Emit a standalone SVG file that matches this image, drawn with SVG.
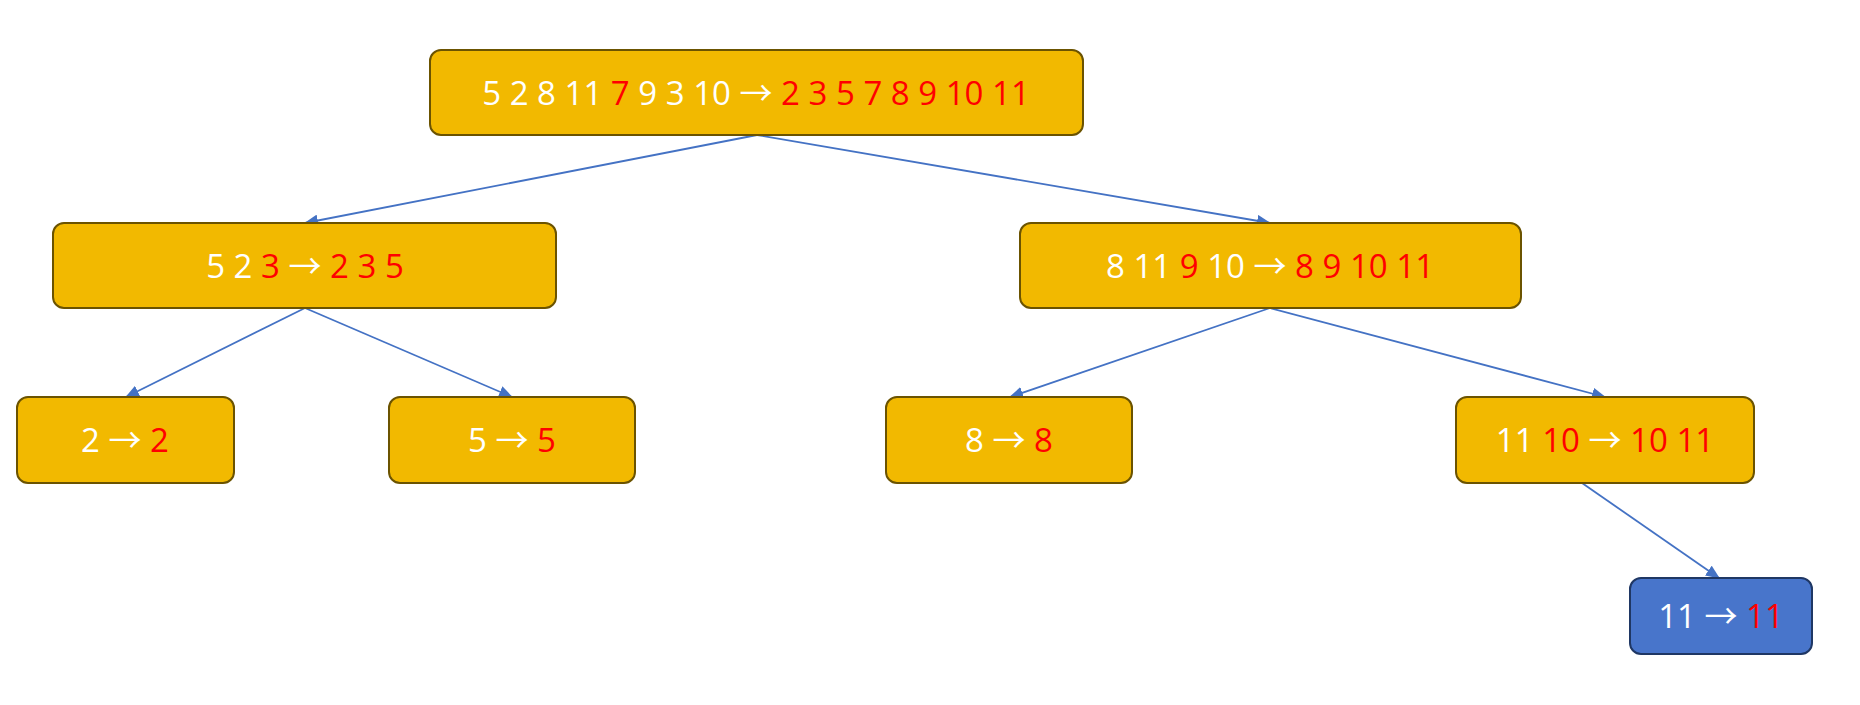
<svg xmlns="http://www.w3.org/2000/svg" width="1860" height="705" viewBox="0 0 1860 705">
<defs>
<style>
.n{fill:#F2B900;stroke:#6B5300;stroke-width:2}
.b{fill:#4875CB;stroke:#1F3764;stroke-width:2}
text{font-family:"Open Sans","Liberation Sans",sans-serif;font-size:33px;text-anchor:middle}
.w{fill:#FFFFFF}
.r{fill:#FF0000}
.a{fill:#FFFFFF;font-family:"Noto Sans CJK JP","DejaVu Sans",sans-serif}
.e{stroke:#4472C4;stroke-width:1.8;fill:none;marker-end:url(#ah)}
</style>
<marker id="ah" markerUnits="userSpaceOnUse" markerWidth="14" markerHeight="12" viewBox="0 0 14 12" refX="13" refY="6" orient="auto">
<path d="M0,0 L14,6 L0,12 Z" fill="#4472C4"/>
</marker>
</defs>
<rect width="1860" height="705" fill="#FFFFFF"/>
<g id="connectors">
<line class="e" x1="757" y1="135" x2="305" y2="223"/>
<line class="e" x1="757" y1="135" x2="1270" y2="223"/>
<line class="e" x1="305" y1="308" x2="126" y2="397"/>
<line class="e" x1="305" y1="308" x2="512" y2="397"/>
<line class="e" x1="1270" y1="308" x2="1010" y2="397"/>
<line class="e" x1="1270" y1="308" x2="1605" y2="397"/>
<line class="e" x1="1582" y1="483" x2="1719" y2="578"/>
</g>
<g id="root">
<rect class="n" x="430" y="50" width="653" height="85" rx="11"/>
<text x="756" y="105"><tspan class="w">5 2 8 11 </tspan><tspan class="r">7</tspan><tspan class="w"> 9 3 10 </tspan><tspan class="a">→</tspan><tspan class="w"> </tspan><tspan class="r">2 3 5 7 8 9 10 11</tspan></text>
</g>
<g id="left">
<rect class="n" x="53" y="223" width="503" height="85" rx="11"/>
<text x="305" y="278"><tspan class="w">5 2 </tspan><tspan class="r">3</tspan><tspan class="w"> </tspan><tspan class="a">→</tspan><tspan class="w"> </tspan><tspan class="r">2 3 5</tspan></text>
</g>
<g id="right">
<rect class="n" x="1020" y="223" width="501" height="85" rx="11"/>
<text x="1270" y="278"><tspan class="w">8 11 </tspan><tspan class="r">9</tspan><tspan class="w"> 10 </tspan><tspan class="a">→</tspan><tspan class="w"> </tspan><tspan class="r">8 9 10 11</tspan></text>
</g>
<g id="leaf2">
<rect class="n" x="17" y="397" width="217" height="86" rx="11"/>
<text x="125" y="452"><tspan class="w">2 </tspan><tspan class="a">→</tspan><tspan class="w"> </tspan><tspan class="r">2</tspan></text>
</g>
<g id="leaf5">
<rect class="n" x="389" y="397" width="246" height="86" rx="11"/>
<text x="512" y="452"><tspan class="w">5 </tspan><tspan class="a">→</tspan><tspan class="w"> </tspan><tspan class="r">5</tspan></text>
</g>
<g id="leaf8">
<rect class="n" x="886" y="397" width="246" height="86" rx="11"/>
<text x="1009" y="452"><tspan class="w">8 </tspan><tspan class="a">→</tspan><tspan class="w"> </tspan><tspan class="r">8</tspan></text>
</g>
<g id="node1110">
<rect class="n" x="1456" y="397" width="298" height="86" rx="11"/>
<text x="1605" y="452"><tspan class="w">11 </tspan><tspan class="r">10</tspan><tspan class="w"> </tspan><tspan class="a">→</tspan><tspan class="w"> </tspan><tspan class="r">10 11</tspan></text>
</g>
<g id="leaf11">
<rect class="b" x="1630" y="578" width="182" height="76" rx="11"/>
<text x="1721" y="628"><tspan class="w">11 </tspan><tspan class="a">→</tspan><tspan class="w"> </tspan><tspan class="r">11</tspan></text>
</g>
</svg>
